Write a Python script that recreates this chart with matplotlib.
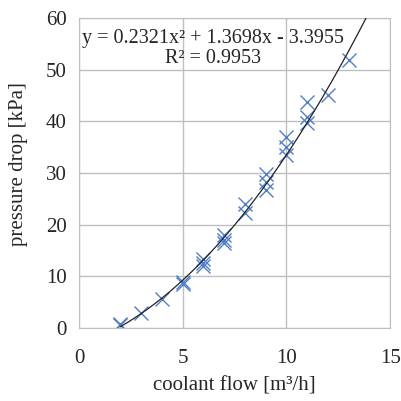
import numpy as np
import matplotlib
matplotlib.use("Agg")
import matplotlib.pyplot as plt

plt.rcParams['font.family'] = ['Liberation Serif', 'DejaVu Serif']

# measured points
flow = [2, 2, 3, 4, 5, 5, 6, 6, 6, 7, 7, 7, 8, 8, 9, 9, 9, 10, 10, 10, 11, 11, 11, 12, 13]
dp = [0.5, 0.8, 3.0, 5.7, 8.6, 9.0, 12.0, 12.5, 13.4, 16.5, 17.0, 18.0, 22.2, 24.1,
      26.7, 28.3, 29.9, 33.5, 35.1, 37.0, 39.6, 40.9, 43.8, 45.1, 51.8]

# quadratic trendline coefficients
coef = [0.2321, 1.3698, -3.3955]
r2 = 0.9953

fig = plt.figure(figsize=(4.01, 4.01), dpi=100)
ax = fig.add_axes([0.197, 0.182, 0.776, 0.773])

xs = np.linspace(min(flow), 14, 200)
ax.plot(xs, np.polyval(coef, xs), color='#222222', lw=0.9, zorder=3)
ax.plot(flow, dp, ls='none', marker='x', ms=10, mew=1.0, color='#4f7fcc', zorder=2)

ax.set_xlim(0, 15)
ax.set_ylim(0, 60)
ax.set_xticks([0, 5, 10, 15])
ax.set_yticks(range(0, 61, 10))
ax.grid(True, color='#bfbfbf', lw=1)
ax.set_axisbelow(True)
for s in ax.spines.values():
    s.set_color('#bfbfbf')
ax.tick_params(length=0, labelsize=15, colors='#262626')
ax.tick_params(axis='x', pad=15, labelcolor='#262626')
ax.tick_params(axis='y', pad=9, labelcolor='#262626')

ax.set_xlabel('coolant flow [m³/h]', fontsize=15, color='#262626')
ax.set_ylabel('pressure drop [kPa]', fontsize=15, color='#262626')
ax.xaxis.set_label_coords(0.5, -0.155)
ax.yaxis.set_label_coords(-0.165, 0.53)

eq = 'y = %.4fx² + %.4fx - %.4f\nR² = %.4f' % (coef[0], coef[1], -coef[2], r2)
ax.text(6.45, 57.9, eq, fontsize=14.5, ha='center', va='top', linespacing=1.1,
        multialignment='center', color='#262626')

fig.savefig('out.png', dpi=100)
